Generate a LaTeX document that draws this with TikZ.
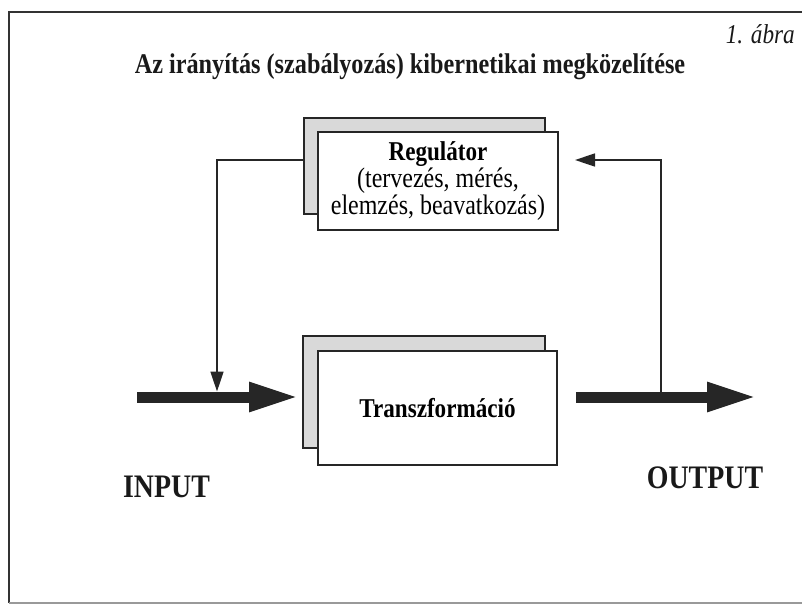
\documentclass[tikz,border=0pt]{standalone}
\usepackage{fontspec}
\setmainfont{Liberation Serif}[FakeStretch=0.85]
\usetikzlibrary{arrows.meta}

\begin{document}
\begin{tikzpicture}[x=1pt,y=-1pt,
  frame/.style={line width=2pt, black!80},
  shadowbox/.style={draw=black!85, line width=1.8pt, fill=gray!30, inner sep=0pt},
  mainbox/.style={draw=black!85, line width=1.8pt, fill=white, inner sep=0pt, align=center},
  flow/.style={line width=11pt, black!85, -{Triangle[length=50pt,width=27pt]}},
  feedback/.style={line width=1.6pt, black!85, -{Triangle[length=20pt,width=13pt]}},
  label/.style={inner sep=0pt, text=black!90},
]
\useasboundingbox (0,0) rectangle (802,606);

% page frame, open to the right
\draw[frame] (802,12) -- (9,12) -- (9,603);
\draw[line width=1.2pt, black!40] (9,603) -- (802,603);

% headings
\node[label, anchor=base, font=\fontsize{28.5}{30}\selectfont\bfseries] (title) at (410,73)
  {Az irányítás (szabályozás) kibernetikai megközelítése};
\node[label, anchor=base east, font=\fontsize{27.3}{30}\selectfont\itshape] (fig) at (795,43) {1. ábra};

% controller block
\node[shadowbox, minimum width=241pt, minimum height=96pt] (regback) at (424.5,166) {};
\node[mainbox, minimum width=240pt, minimum height=98pt, font=\fontsize{28.2}{25}\selectfont] (reg) at (438,181)
  {{\fontsize{27.2}{26}\selectfont\bfseries Regulátor}\\(tervezés, mérés,\\elemzés, beavatkozás)};

% transformation block
\node[shadowbox, minimum width=242pt, minimum height=112pt] (trback) at (424,392) {};
\node[mainbox, minimum width=239pt, minimum height=114pt, font=\fontsize{27.2}{30}\selectfont\bfseries] (tr) at (437.5,408)
  {Transzformáció};

% input / output flows
\coordinate (instart) at (137,397);
\coordinate (outend) at (757,397);
\draw[flow, shorten >=3pt] (instart) -- (instart -| trback.west);
\draw[flow] ([xshift=18pt]tr.east |- outend) -- (outend);

% feedback loop
\coordinate (fbL) at (217,160);
\coordinate (injoin) at (217,391.5);
\coordinate (outjoin) at (661,391.5);
\coordinate (fbR) at (575,160);
\draw[feedback] (regback.west |- fbL) -- (fbL) -- (injoin);
\draw[feedback] (outjoin) |- (fbR);

% flow labels
\node[label, anchor=base, font=\fontsize{32.8}{34}\selectfont\bfseries] (input) at (166.5,497) {INPUT};
\node[label, anchor=base, font=\fontsize{32.8}{34}\selectfont\bfseries] (output) at (705,488) {OUTPUT};
\end{tikzpicture}
\end{document}
